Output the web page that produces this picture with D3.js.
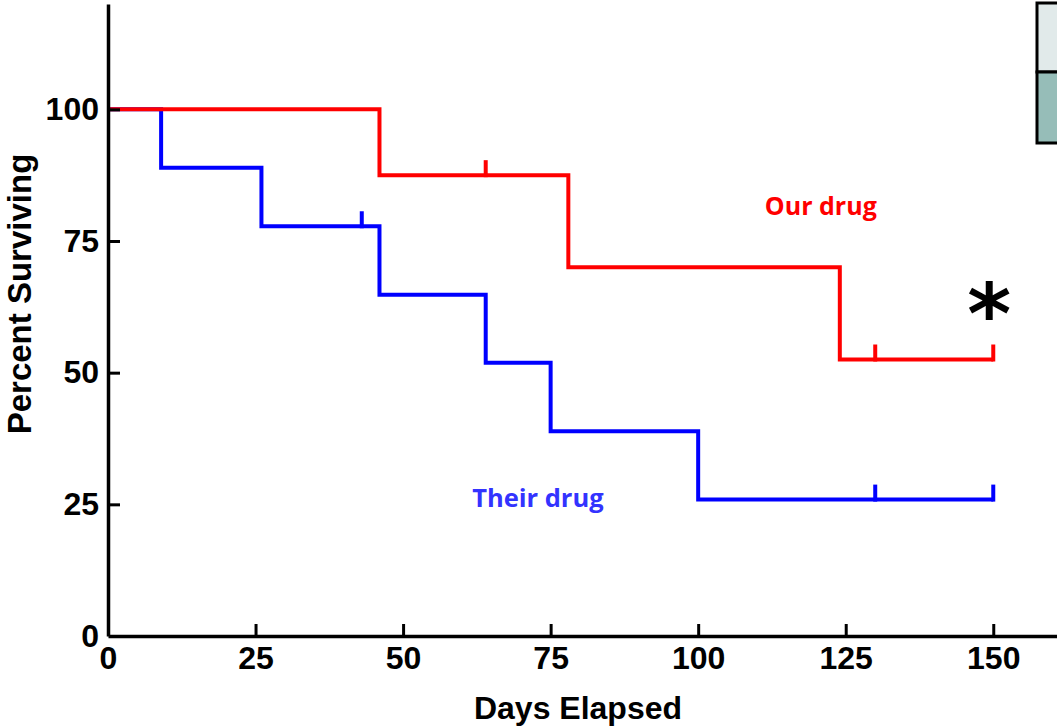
<!DOCTYPE html>
<html>
<head>
<meta charset="utf-8">
<script src="https://cdn.jsdelivr.net/npm/d3@7"></script>
<style>
  html, body { margin: 0; padding: 0; background: #fff; }
  svg { display: block; }
</style>
</head>
<body>
<svg id="chart" width="1057" height="727"></svg>
<script>
// ---- data ----
const ourDrugDays = [0, 46, 78, 124, 150];
const ourDrugPct = [100, 87.5, 70, 52.5, 52.5];
const ourDrugCensored = [64, 130, 150];

const theirDrugDays = [0, 9, 26, 46, 64, 75, 100, 150];
const theirDrugPct = [100, 88.9, 77.8, 64.8, 51.9, 38.9, 25.9, 25.9];
const theirDrugCensored = [43, 130, 150];

const xTicks = [0, 25, 50, 75, 100, 125, 150];
const yTicks = [0, 25, 50, 75, 100];

const seriesLabels = ["Our drug", "Their drug"];
const xTitle = "Days Elapsed";
const yTitle = "Percent Surviving";

// ---- layout ----
const svg = d3.select("#chart");
const x = d3.scaleLinear().domain([0, 160.8]).range([108, 1057]);
const y = d3.scaleLinear().domain([0, 120]).range([636, 4]);

const tickFont = "'Liberation Sans', Arial, sans-serif";

// top-right partial box
const box = svg.append("g");
box.append("rect").attr("x", 1037).attr("y", 3).attr("width", 40).attr("height", 69)
  .attr("fill", "#e1eaea").attr("stroke", "#000").attr("stroke-width", 3);
box.append("rect").attr("x", 1037).attr("y", 72).attr("width", 40).attr("height", 71)
  .attr("fill", "#96bdb8").attr("stroke", "#000").attr("stroke-width", 3);

function stepValue(days, pct, t) {
  let v = pct[0];
  for (let i = 0; i < days.length; i++) if (days[i] <= t) v = pct[i];
  return v;
}

const line = d3.line().x(d => x(d[0])).y(d => y(d[1])).curve(d3.curveStepAfter);

function drawSeries(days, pct, censored, color) {
  const g = svg.append("g");
  g.append("path")
    .attr("d", line(days.map((d, i) => [d, pct[i]])))
    .attr("fill", "none").attr("stroke", color).attr("stroke-width", 4)
    .attr("stroke-linejoin", "miter");
  g.selectAll("line.c").data(censored).join("line")
    .attr("x1", d => x(d)).attr("x2", d => x(d))
    .attr("y1", d => y(stepValue(days, pct, d)) + 2)
    .attr("y2", d => y(stepValue(days, pct, d)) - 15)
    .attr("stroke", color).attr("stroke-width", 4);
}

drawSeries(theirDrugDays, theirDrugPct, theirDrugCensored, "#0000ff");
drawSeries(ourDrugDays, ourDrugPct, ourDrugCensored, "#ff0000");

// ---- axes ----
const xAxis = d3.axisBottom(x).tickValues(xTicks).tickSize(-12).tickSizeOuter(0).tickPadding(10);
const gx = svg.append("g").attr("transform", "translate(0,636)").call(xAxis);
gx.select(".domain").attr("stroke-width", 3.5);
gx.selectAll(".tick line").attr("stroke-width", 3);
gx.selectAll(".tick").filter(d => d === 0).select("line").remove();
gx.selectAll("text").attr("font-family", tickFont).attr("font-weight", "bold")
  .attr("font-size", 32).attr("fill", "#000");

const yAxis = d3.axisLeft(y).tickValues(yTicks).tickSize(-12).tickSizeOuter(0).tickPadding(9);
const gy = svg.append("g").attr("transform", "translate(108,0)").call(yAxis);
gy.select(".domain").attr("stroke-width", 3.5);
gy.selectAll(".tick line").attr("stroke-width", 3);
gy.selectAll(".tick").filter(d => d === 0).select("line").remove();
gy.selectAll("text").attr("font-family", tickFont).attr("font-weight", "bold")
  .attr("font-size", 32).attr("fill", "#000");

// ---- titles ----
svg.append("text").attr("x", 578).attr("y", 719).attr("text-anchor", "middle")
  .attr("font-family", tickFont).attr("font-weight", "bold").attr("font-size", 32)
  .text(xTitle);
svg.append("text").attr("transform", "translate(31,294) rotate(-90)")
  .attr("text-anchor", "middle")
  .attr("font-family", tickFont).attr("font-weight", "bold").attr("font-size", 33)
  .text(yTitle);

// ---- annotations ----
const labFont = "'Open Sans', 'Noto Sans', sans-serif";
svg.append("text").attr("x", x(111.3)).attr("y", y(79.9))
  .attr("font-family", labFont).attr("font-weight", "bold").attr("font-size", 25)
  .attr("fill", "#ff0000").text(seriesLabels[0]);
svg.append("text").attr("x", x(61.7)).attr("y", y(24.5))
  .attr("font-family", labFont).attr("font-weight", "bold").attr("font-size", 25.5)
  .attr("fill", "#3333ff").text(seriesLabels[1]);
svg.append("text").attr("x", x(149.3)).attr("y", y(63.6) + 42)
  .attr("text-anchor", "middle")
  .attr("font-family", "'DejaVu Sans', sans-serif").attr("font-weight", "bold").attr("font-size", 84)
  .attr("fill", "#000").text("*");
</script>
</body>
</html>
